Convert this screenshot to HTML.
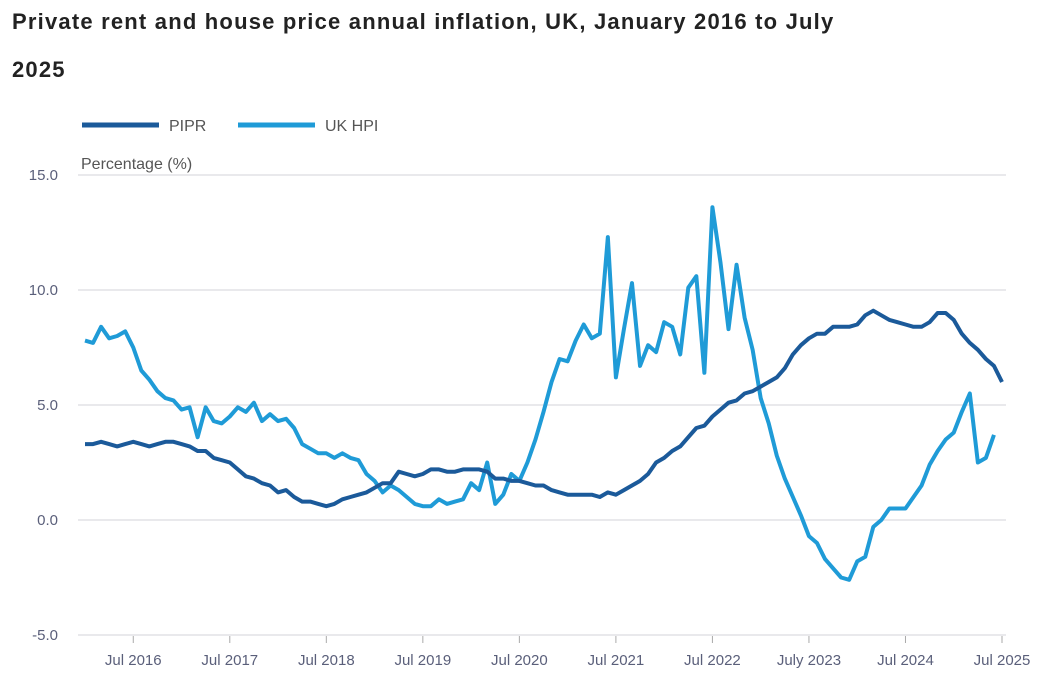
<!DOCTYPE html>
<html><head><meta charset="utf-8"><style>
body{margin:0;background:#fff;font-family:"Liberation Sans",sans-serif;}
#t{position:absolute;left:12px;top:-2px;width:860px;font-size:22px;letter-spacing:1.2px;font-weight:bold;color:#222;line-height:48px;margin:0}
svg{position:absolute;left:0;top:0}
</style></head><body>
<h1 id="t">Private rent and house price annual inflation, UK, January 2016 to July 2025</h1>
<svg id="c" width="1057" height="691"></svg>
<script>
const pipr=[3.3,3.3,3.4,3.3,3.2,3.3,3.4,3.3,3.2,3.3,3.4,3.4,3.3,3.2,3.0,3.0,2.7,2.6,2.5,2.2,1.9,1.8,1.6,1.5,1.2,1.3,1.0,0.8,0.8,0.7,0.6,0.7,0.9,1.0,1.1,1.2,1.4,1.6,1.6,2.1,2.0,1.9,2.0,2.2,2.2,2.1,2.1,2.2,2.2,2.2,2.1,1.8,1.8,1.7,1.7,1.6,1.5,1.5,1.3,1.2,1.1,1.1,1.1,1.1,1.0,1.2,1.1,1.3,1.5,1.7,2.0,2.5,2.7,3.0,3.2,3.6,4.0,4.1,4.5,4.8,5.1,5.2,5.5,5.6,5.8,6.0,6.2,6.6,7.2,7.6,7.9,8.1,8.1,8.4,8.4,8.4,8.5,8.9,9.1,8.9,8.7,8.6,8.5,8.4,8.4,8.6,9.0,9.0,8.7,8.1,7.7,7.4,7.0,6.7,6.0];
const hpi=[7.8,7.7,8.4,7.9,8.0,8.2,7.5,6.5,6.1,5.6,5.3,5.2,4.8,4.9,3.6,4.9,4.3,4.2,4.5,4.9,4.7,5.1,4.3,4.6,4.3,4.4,4.0,3.3,3.1,2.9,2.9,2.7,2.9,2.7,2.6,2.0,1.7,1.2,1.5,1.3,1.0,0.7,0.6,0.6,0.9,0.7,0.8,0.9,1.6,1.3,2.5,0.7,1.1,2.0,1.7,2.5,3.5,4.7,6.0,7.0,6.9,7.8,8.5,7.9,8.1,12.3,6.2,8.3,10.3,6.7,7.6,7.3,8.6,8.4,7.2,10.1,10.6,6.4,13.6,11.2,8.3,11.1,8.8,7.4,5.3,4.2,2.8,1.8,1.0,0.2,-0.7,-1.0,-1.7,-2.1,-2.5,-2.6,-1.8,-1.6,-0.3,0.0,0.5,0.5,0.5,1.0,1.5,2.4,3.0,3.5,3.8,4.7,5.5,2.5,2.7,3.7];
const yTicks=[15,10,5,0,-5];
const yLabels=["15.0","10.0","5.0","0.0","-5.0"];
const xTickIdx=[6,18,30,42,54,66,78,90,102,114];
const xLabels=["Jul 2016","Jul 2017","Jul 2018","Jul 2019","Jul 2020","Jul 2021","Jul 2022","July 2023","Jul 2024","Jul 2025"];
const NS="http://www.w3.org/2000/svg",svg=document.getElementById('c');
const X=i=>85+i*(1002-85)/114, Y=v=>520-v*23;
function el(n,a,txt){const e=document.createElementNS(NS,n);for(const k in a)e.setAttribute(k,a[k]);if(txt!=null)e.textContent=txt;svg.appendChild(e);return e;}
yTicks.forEach((v,k)=>{
 const g=el('line',{x1:78,x2:1006,y1:Y(v),y2:Y(v),stroke:'#e2e2e6','stroke-width':1.5});
 
 
 const t=el('text',{x:58,y:Y(v)+5,'text-anchor':'end','font-size':15,fill:'#5a5f7a'},yLabels[k]);
 
 
});
xTickIdx.forEach((i,k)=>{
 const m=el('line',{x1:X(i),x2:X(i),y1:636,y2:643,stroke:'#aaa','stroke-width':1});
 
 
 const t=el('text',{x:X(i),y:665,'text-anchor':'middle','font-size':15,fill:'#5a5f7a'},xLabels[k]);
 
 
});
const yt=el('text',{x:81,y:169,'font-size':16,fill:'#555'},'Percentage (%)');


function series(d,c,name){
 const p=el('polyline',{points:d.map((v,i)=>X(i)+','+Y(v)).join(' '),fill:'none',stroke:c,'stroke-width':4,'stroke-linejoin':'round'});
 
 
}
series(hpi,'#1f9bd7','uk-hpi-line');
series(pipr,'#1b5a9a','pipr-line');
[[82,'#1b5a9a','PIPR','legend-pipr'],[238,'#1f9bd7','UK HPI','legend-uk-hpi']].forEach(l=>{
 const ln=el('line',{x1:l[0],x2:l[0]+77,y1:125,y2:125,stroke:l[1],'stroke-width':5});
 
 
 const t=el('text',{x:l[0]+87,y:131,'font-size':16,fill:'#555'},l[2]);
 
 
});
</script>
</body></html>
